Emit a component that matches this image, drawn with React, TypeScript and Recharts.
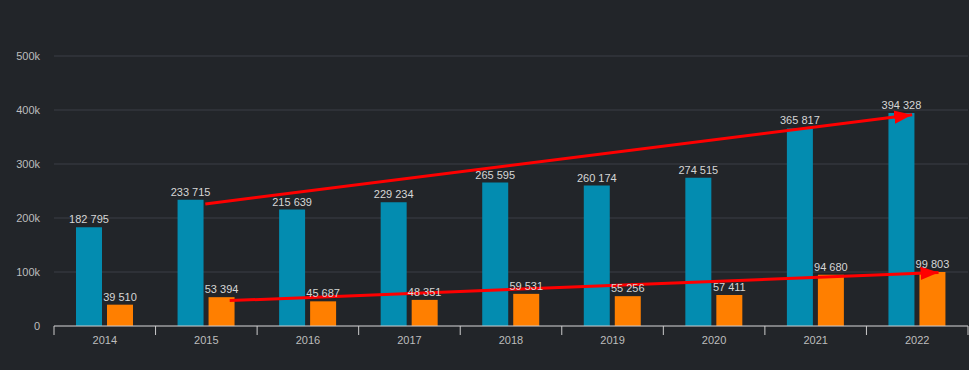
import { BarChart, Bar, XAxis, YAxis, CartesianGrid, LabelList, ReferenceLine } from 'recharts'

const years = ['2014', '2015', '2016', '2017', '2018', '2019', '2020', '2021', '2022']
const blueValues = [182795, 233715, 215639, 229234, 265595, 260174, 274515, 365817, 394328]
const orangeValues = [39510, 53394, 45687, 48351, 59531, 55256, 57411, 94680, 99803]
const yTicks = [0, 100000, 200000, 300000, 400000, 500000]

// trend arrows: anchor years, values at the ends, and shift of each end in bar-group widths
const topArrow = { from: '2015', to: '2022', values: [226000, 391000], shift: [-0.01, -0.05] }
const bottomArrow = { from: '2015', to: '2022', values: [47000, 99000], shift: [0.23, 0.21] }

const data = years.map((year, i) => ({ year, blue: blueValues[i], orange: orangeValues[i] }))

const BG = '#222529'
const BLUE = '#038cb0'
const ORANGE = '#ff7f00'

const fmtSpace = (v: number) => String(v).replace(/\B(?=(\d{3})+(?!\d))/g, ' ')
const fmtK = (v: number) => (v === 0 ? '0' : `${v / 1000}k`)

function YearTick(props: any) {
  const { x, y, payload, index, visibleTicksCount, width } = props
  const half = payload.offset ?? width / visibleTicksCount / 2
  return (
    <g>
      <line x1={x - half} x2={x - half} y1={y} y2={y + 9} stroke="#cccccc" />
      {index === visibleTicksCount - 1 && (
        <line x1={x + half} x2={x + half} y1={y} y2={y + 9} stroke="#cccccc" />
      )}
      <text x={x} y={y + 18} textAnchor="middle" fill="#bdbdbd" fontSize={11}>
        {payload.value}
      </text>
    </g>
  )
}

function ValueLabel(props: any) {
  const { x, y, width, value } = props
  return (
    <text x={x + width / 2} y={y - 4} textAnchor="middle" fill="#d6d6d6" fontSize={11}>
      {fmtSpace(value)}
    </text>
  )
}

function arrowShape(id: string, shift: number[], span: number) {
  return (props: any) => {
    const { x1, y1, x2, y2 } = props
    const bw = (x2 - x1) / span
    return (
      <g>
        <defs>
          <marker id={id} viewBox="0 0 10 10" refX={10} refY={5} markerWidth={6} markerHeight={4.5} preserveAspectRatio="none" orient="auto">
            <path d="M0,0 L10,5 L0,10 z" fill="#ff0000" />
          </marker>
        </defs>
        <line
          x1={x1 + shift[0] * bw}
          y1={y1}
          x2={x2 + shift[1] * bw}
          y2={y2}
          stroke="#ff0000"
          strokeWidth={3}
          markerEnd={`url(#${id})`}
        />
      </g>
    )
  }
}

function arrowSpan(a: { from: string; to: string }) {
  return years.indexOf(a.to) - years.indexOf(a.from)
}

export default function App() {
  return (
    <div style={{ width: 969, height: 370, background: BG, fontFamily: '"Liberation Sans", Arial, sans-serif' }}>
      <style>{`body{margin:0;background:${BG}}`}</style>
      <BarChart width={969} height={370} data={data} margin={{ top: 56, right: 1, left: 0, bottom: 14 }} barSize={26} barGap={5}>
        <CartesianGrid vertical={false} stroke="#3b3e46" />
        <XAxis
          dataKey="year"
          axisLine={{ stroke: '#cccccc' }}
          tickLine={false}
          tickSize={0}
          tickMargin={0}
          tick={<YearTick />}
          interval={0}
        />
        <YAxis
          domain={[0, 500000]}
          ticks={yTicks}
          tickFormatter={fmtK}
          axisLine={false}
          tickLine={false}
          tickMargin={8}
          width={54}
          tick={{ fill: '#bdbdbd', fontSize: 11 }}
        />
        <Bar dataKey="blue" fill={BLUE} isAnimationActive={false}>
          <LabelList dataKey="blue" content={<ValueLabel />} />
        </Bar>
        <Bar dataKey="orange" fill={ORANGE} isAnimationActive={false}>
          <LabelList dataKey="orange" content={<ValueLabel />} />
        </Bar>
        <ReferenceLine
          ifOverflow="visible"
          segment={[
            { x: topArrow.from, y: topArrow.values[0] },
            { x: topArrow.to, y: topArrow.values[1] },
          ]}
          shape={arrowShape('arrowTop', topArrow.shift, arrowSpan(topArrow))}
        />
        <ReferenceLine
          ifOverflow="visible"
          segment={[
            { x: bottomArrow.from, y: bottomArrow.values[0] },
            { x: bottomArrow.to, y: bottomArrow.values[1] },
          ]}
          shape={arrowShape('arrowBottom', bottomArrow.shift, arrowSpan(bottomArrow))}
        />
      </BarChart>
    </div>
  )
}
